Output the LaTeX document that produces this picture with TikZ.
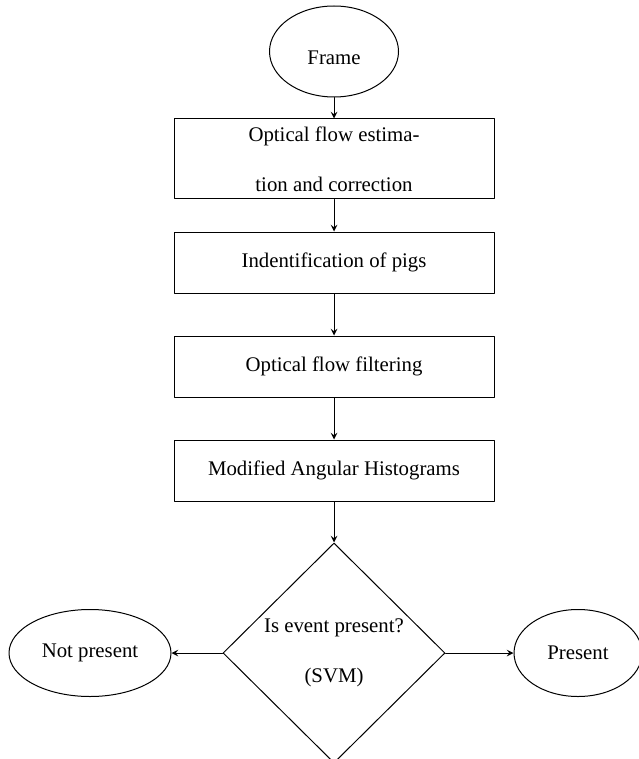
\documentclass[tikz,border=0pt]{standalone}
\usepackage{fontspec}
\setmainfont{Liberation Serif}
\usetikzlibrary{shapes.geometric}
\tikzset{
	blk/.style={draw,rectangle,minimum width=160pt,minimum height=30.5pt,inner sep=0pt,align=center},
	oval/.style={draw,ellipse,inner sep=0pt,minimum height=43.5pt},
	decide/.style={draw,diamond,aspect=1,inner sep=0pt,minimum width=111pt,minimum height=110pt,align=center}
}
\begin{document}
\begin{tikzpicture}[x=0.5pt,y=-0.5pt,>=stealth,font=\fontsize{10.4}{25}\selectfont,line join=round,line cap=round,line width=0.5pt]
	\def\xc{334} % trục giữa
	\useasboundingbox (0,0) rectangle (638,759);
	\node[oval,minimum width=64.5pt,minimum height=45.5pt,text height=13pt] (frame) at (\xc,51.5) {Frame};
	\node[blk,minimum height=40pt] (flow) at (\xc,159) {Optical flow estima-\\tion and correction};
	\node[blk] (ident) at (\xc,262.5) {Indentification of pigs};
	\node[blk] (filt) at (\xc,366.5) {Optical flow filtering};
	\node[blk] (hist) at (\xc,470.5) {Modified Angular Histograms};
	\node[decide] (svm) at (\xc,653) {Is event present?\\(SVM)};
	\node[oval,minimum width=81pt] (notp) at (90,653) {Not present};
	\node[oval,minimum width=64pt] (pres) at (578,653) {Present};
	\draw[->] (frame)--(flow);
	\draw[->] (flow)--(ident);
	\draw[->] (ident)--(filt);
	\draw[->] (filt)--(hist);
	\draw[->] (hist)--(svm);
	\draw[->] (svm)--(notp);
	\draw[->] (svm)--(pres);
\end{tikzpicture}
\end{document}
